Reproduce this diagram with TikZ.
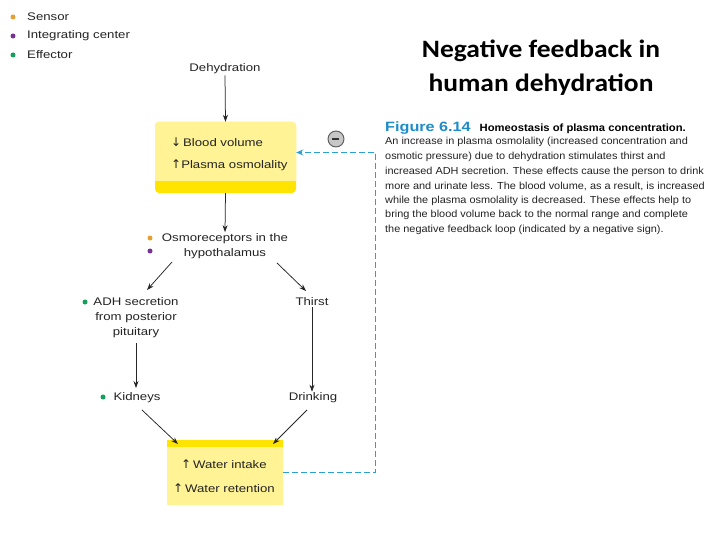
\documentclass[tikz,border=0pt]{standalone}
\usepackage{fontspec}
\setmainfont{Liberation Sans}
\newfontfamily\titlefont{Carlito}
\newfontfamily\symfont{DejaVu Sans}
\usetikzlibrary{arrows.meta}
\definecolor{boxfill}{RGB}{255,243,150}
\definecolor{boxband}{RGB}{255,228,0}
\definecolor{fbcyan}{RGB}{40,160,210}
\definecolor{figblue}{RGB}{30,140,200}
\definecolor{sensorc}{RGB}{230,160,50}
\definecolor{integc}{RGB}{120,50,150}
\definecolor{effc}{RGB}{20,160,90}
\definecolor{txt}{RGB}{35,35,35}
\newcommand\wdt[1]{\scalebox{1.2}[1]{#1}}
\newcommand\cwd[1]{\scalebox{1.07}[1]{#1}}
\newcommand\uparr{{\symfont\fontsize{12}{12}\selectfont\char"2191}}
\newcommand\dnarr{{\symfont\fontsize{12}{12}\selectfont\char"2193}}
\tikzset{
  lbl/.style={font=\fontsize{11}{15}\selectfont, text=txt, inner sep=1pt, align=center},
  arr/.style={-{Stealth[length=7pt,width=5pt]}, line width=0.75pt, black!85},
  dot/.style={circle, inner sep=0pt, minimum size=5pt},
  captxt/.style={font=\fontsize{10.2}{14.5}\selectfont, text=txt, anchor=west, inner sep=0pt},
}
\begin{document}
\begin{tikzpicture}[x=1pt,y=-1pt]
\useasboundingbox[fill=white] (0,0) rectangle (720,540);
% legend
\node[dot, fill=sensorc] (ls) at (13,17) {};
\node[dot, fill=integc] (li) at (13,36) {};
\node[dot, fill=effc] (le) at (13,55) {};
\node[lbl, anchor=west] (lst) at (26,17) {\wdt{Sensor}};
\node[lbl, anchor=west] (lit) at (26,36) {\wdt{Integrating center}};
\node[lbl, anchor=west] (let) at (26,55) {\wdt{Effector}};
% title
\node[font=\titlefont\bfseries\fontsize{25}{34}\selectfont, align=center] (title) at (541,68) {\scalebox{1.1}[1]{Negative feedback in}\\\scalebox{1.1}[1]{human dehydration}};
% top box
\fill[boxband, rounded corners=4pt] (155,122) rectangle (296,193);
\fill[boxfill, rounded corners=3pt] (155,122) rectangle (296,181);
\fill[boxfill] (155,170) rectangle (296,181);
\node[inner sep=0pt, minimum width=141pt, minimum height=71pt] (top) at (225.5,157.5) {};
\node[lbl, anchor=west] (bv) at (170,142) {\dnarr\,\wdt{Blood volume}};
\node[lbl, anchor=west] (po) at (170,165) {\uparr\wdt{Plasma osmolality}};
\node[lbl] (dehyd) at (225,69) {\wdt{Dehydration}};
\draw[arr] (dehyd.south) -- (top.north);
% osmoreceptors
\node[lbl] (osmo) at (225,246) {\wdt{Osmoreceptors in the}\\\wdt{hypothalamus}};
\node[dot, fill=sensorc] (os) at (150,238) {};
\node[dot, fill=integc] (oi) at (150,251) {};
\draw[arr] (top.south) -- (osmo.north);
% ADH and Thirst
\node[lbl] (adh) at (136,318) {\wdt{ADH secretion}\\\wdt{from posterior}\\\wdt{pituitary}};
\node[dot, fill=effc] (ae) at (85,302) {};
\node[lbl] (thirst) at (312,302) {\wdt{Thirst}};
\coordinate (o1) at (172,262);
\coordinate (o2) at (277,263);
\coordinate (a1) at (147,290);
\coordinate (t1) at (306,291);
\draw[arr] (o1) -- (a1);
\draw[arr] (o2) -- (t1);
% Kidneys Drinking
\node[lbl] (kid) at (137,398) {\wdt{Kidneys}};
\node[dot, fill=effc] (ke) at (103,397) {};
\node[lbl] (drink) at (313,398) {\wdt{Drinking}};
\coordinate (adhb) at (136,343);
\coordinate (kidt) at (136,388);
\draw[arr] (adhb) -- (kidt);
\draw[arr] (thirst.south) -- (thirst.south |- drink.north);
% bottom box
\fill[boxband] (167,440) rectangle (283,450);
\fill[boxfill] (167,447) rectangle (283,505);
\node[inner sep=0pt, minimum width=116pt, minimum height=65pt] (bot) at (225,472.5) {};
\node[lbl, anchor=west] (wi) at (180,464) {\uparr\,\wdt{Water intake}};
\node[lbl, anchor=west] (wr) at (172,488) {\uparr\,\wdt{Water retention}};
\coordinate (k1) at (142,410);
\coordinate (k2) at (178,444);
\coordinate (d1) at (307,410);
\coordinate (d2) at (273,444);
\draw[arr] (k1) -- (k2);
\draw[arr] (d1) -- (d2);
% feedback
\coordinate (fb1) at (375.5,472.5);
\coordinate (fb2) at (375.5,152.5);
\draw[fbcyan, line width=1.2pt, dash pattern=on 6pt off 3pt, -{Stealth[length=7pt,width=6pt]}]
  (bot.east |- fb1) -- (fb1) -- (fb2) -- (top.east |- fb2);
\node[circle, draw=black!65, fill=black!22, line width=0.9pt, minimum size=16pt, inner sep=0pt] (minus) at (336,139) {};
\draw[black!80, line width=1.3pt] (minus.west) ++(4.5,0) -- ++(7,0);
% caption
\node[anchor=west, inner sep=0pt] (fig) at (385,128) {\textcolor{figblue}{\fontsize{13.5}{15}\selectfont\bfseries\wdt{Figure 6.14}}\hspace{9pt}{\fontsize{10.5}{12}\selectfont\bfseries\cwd{Homeostasis of plasma concentration.}}};
\node[captxt] (c1) at (385,142) {\cwd{An increase in plasma osmolality (increased concentration and}};
\node[captxt] (c2) at (385,157) {\cwd{osmotic pressure) due to dehydration stimulates thirst and}};
\node[captxt] (c3) at (385,171.5) {\cwd{increased ADH secretion. These effects cause the person to drink}};
\node[captxt] (c4) at (385,186) {\cwd{more and urinate less. The blood volume, as a result, is increased}};
\node[captxt] (c5) at (385,200.5) {\cwd{while the plasma osmolality is decreased. These effects help to}};
\node[captxt] (c6) at (385,215) {\cwd{bring the blood volume back to the normal range and complete}};
\node[captxt] (c7) at (385,229.5) {\cwd{the negative feedback loop (indicated by a negative sign).}};
\end{tikzpicture}
\end{document}
